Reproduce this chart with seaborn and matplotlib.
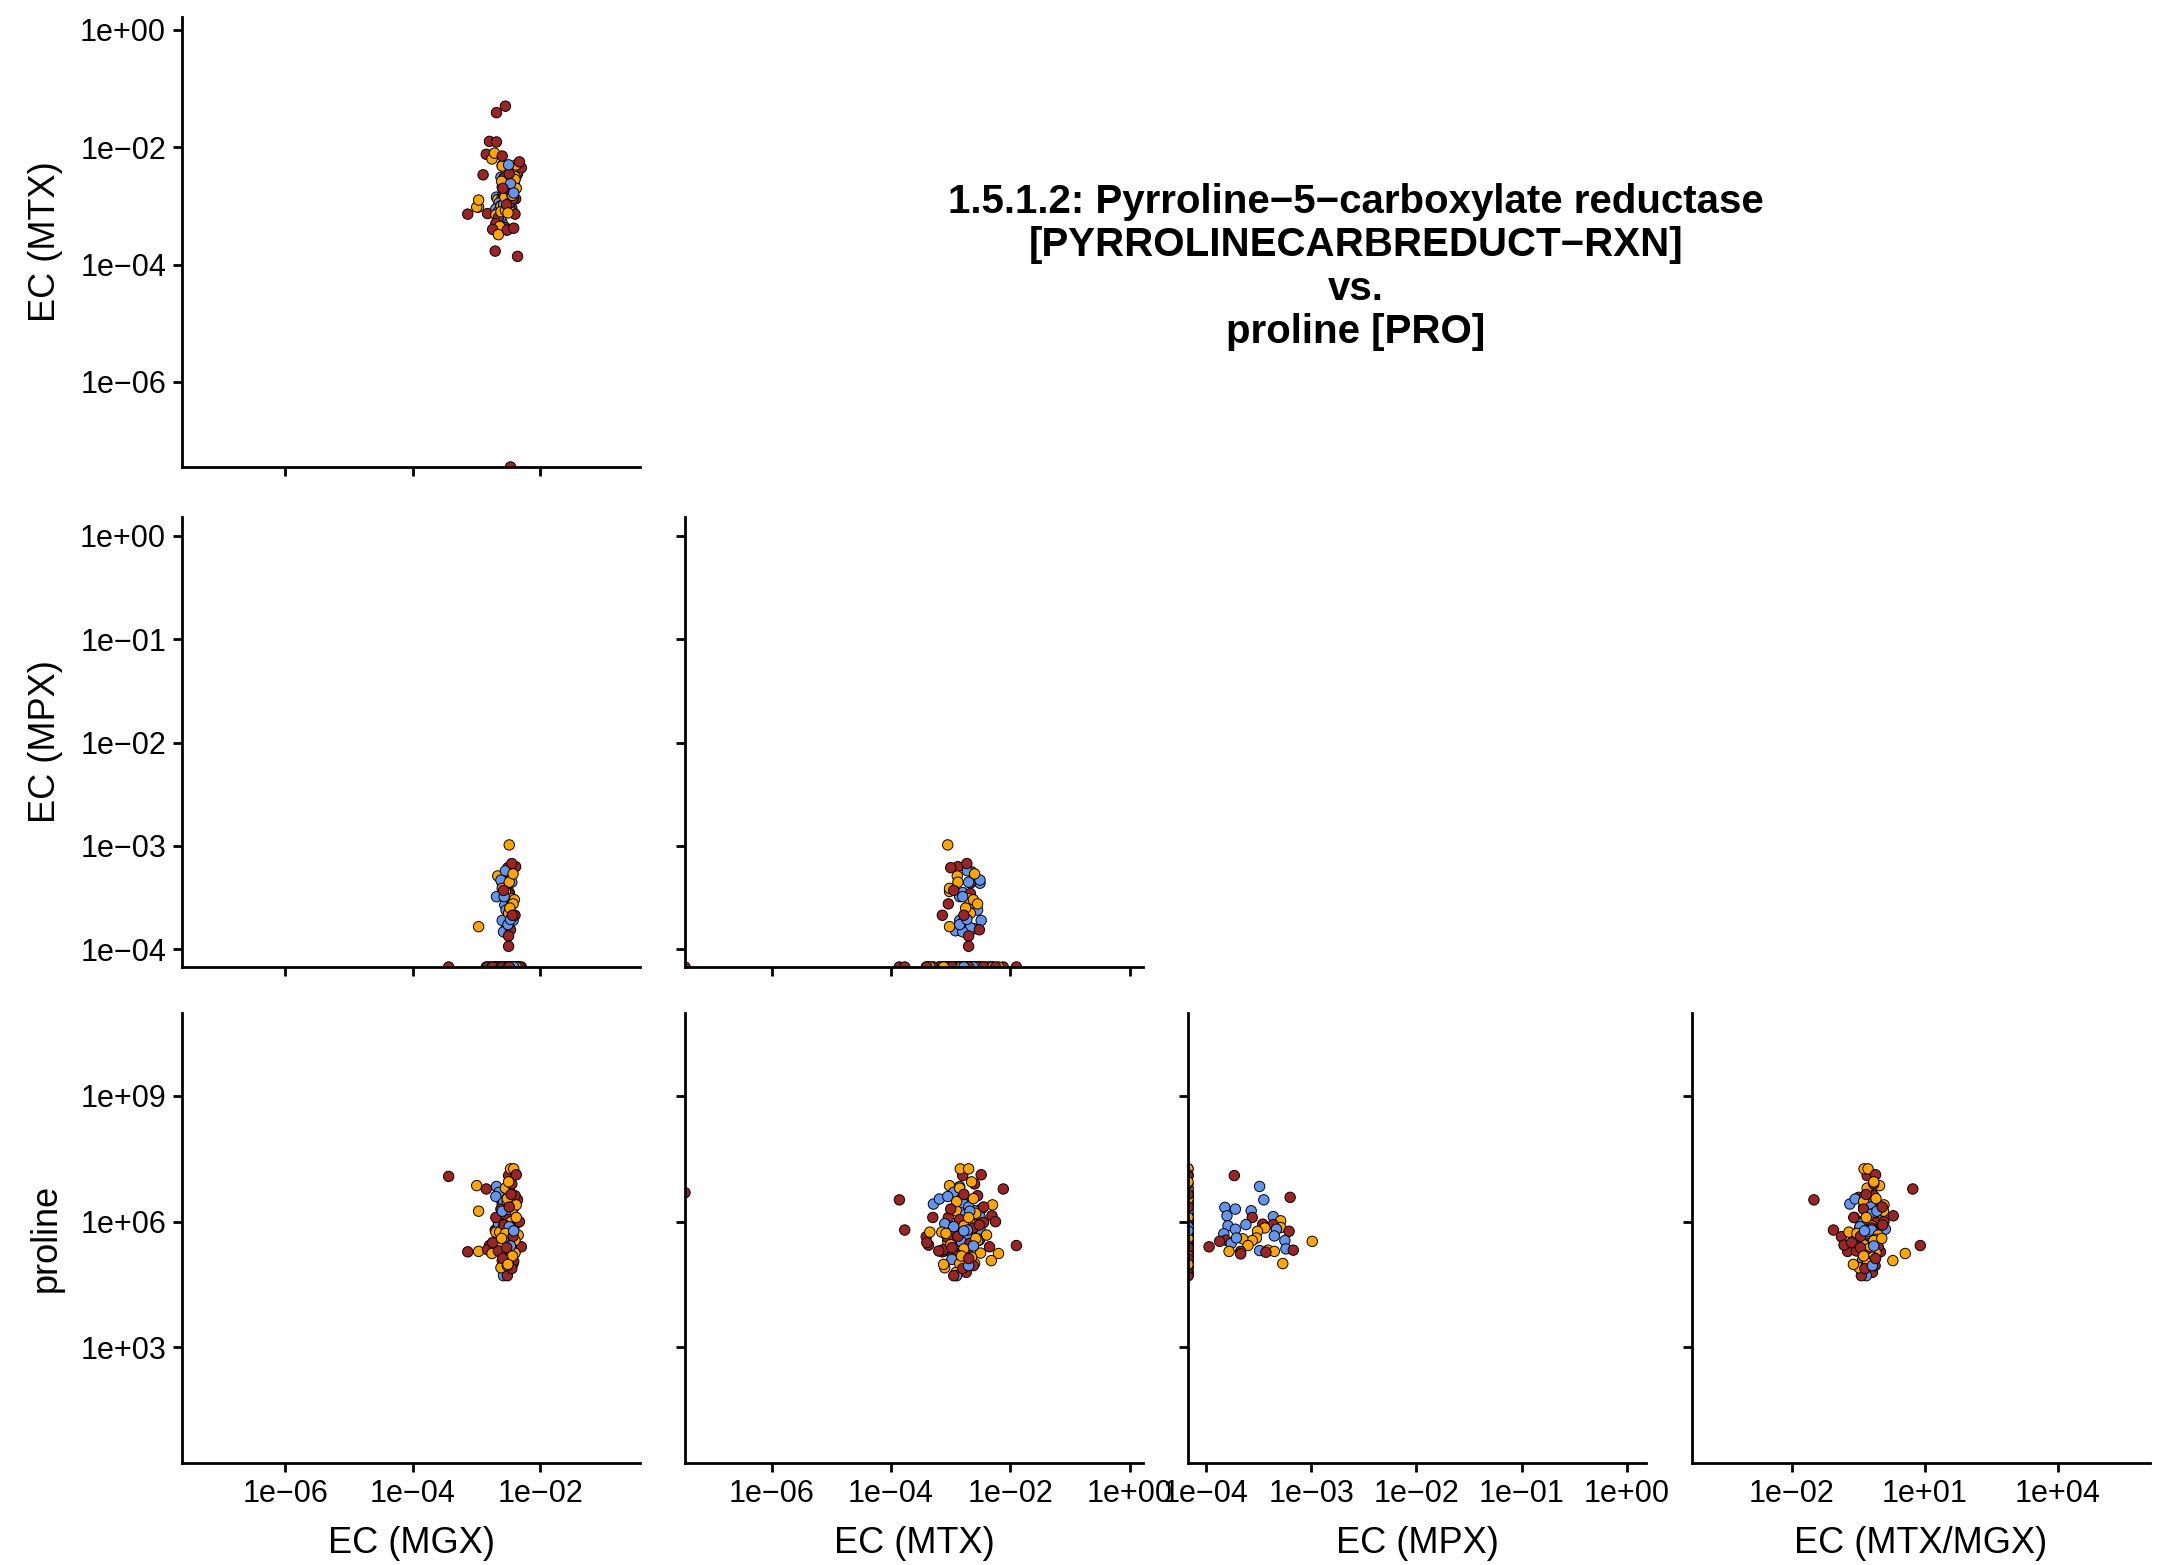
import numpy as np
import pandas as pd
import seaborn as sns
import matplotlib.pyplot as plt
from matplotlib.ticker import FixedLocator, FuncFormatter, NullLocator

# values are log10 abundances; -inf = measured zero, nan = not measured
Z = -np.inf
NA = np.nan

group = (
    # samples with non-zero MPX
    ["CD", "nonIBD", "nonIBD", "CD", "nonIBD", "nonIBD", "nonIBD", "nonIBD", "CD", "nonIBD",
     "UC", "UC", "CD", "CD", "nonIBD", "nonIBD", "nonIBD", "nonIBD", "nonIBD", "CD",
     "UC", "UC", "nonIBD", "UC", "UC", "UC", "CD", "CD", "nonIBD", "UC",
     "CD", "UC", "nonIBD", "nonIBD", "UC", "CD", "CD", "nonIBD", "nonIBD", "UC",
     "UC", "CD", "CD", "UC"]
    # samples with zero MPX
    + ["UC", "UC", "CD", "CD", "UC", "CD", "CD", "UC", "nonIBD", "nonIBD",
       "CD", "CD", "CD", "CD", "CD", "CD", "CD", "CD", "UC", "UC",
       "UC", "CD", "nonIBD", "CD", "nonIBD", "nonIBD", "UC", "CD", "UC", "nonIBD",
       "CD", "UC", "nonIBD", "CD", "UC", "nonIBD", "CD", "UC", "nonIBD", "CD",
       "UC", "CD", "nonIBD", "UC", "CD", "UC", "CD", "UC", "nonIBD", "CD",
       "UC", "CD", "UC", "CD", "UC", "CD", "UC", "nonIBD", "CD", "UC",
       "CD", "UC", "CD", "nonIBD", "UC", "CD", "UC", "CD", "UC", "CD",
       "UC", "CD", "nonIBD", "UC", "CD", "nonIBD", "UC", "CD", "UC", "nonIBD",
       "CD", "UC", "CD", "UC", "nonIBD", "CD"]
    # samples without MPX / metabolite
    + ["CD", "CD", "CD", "CD", "UC", "CD", "CD", "UC", "CD", "nonIBD"]
)

mgx_log = (
    [-2.50, -2.69, -2.49, -2.39, -2.54, -2.43, -2.54, -2.56, -2.45, -2.60,
     -2.58, -2.67, -2.50, -2.49, -2.51, -2.60, -2.54, -2.62, -2.45, -2.51,
     -2.55, -2.45, -2.58, -2.41, -2.43, -2.50, -2.47, -2.50, -2.52, -2.49,
     -2.50, -2.48, -2.51, -2.47, -2.97, -2.40, -2.44, -2.57, -2.55, -2.60,
     -2.49, -2.58, -2.45, -2.43]
    + [-2.47, -2.42, -2.38, -3.44, -3.00, -2.85, -2.36, -2.97, -2.60, -2.62,
       -2.47, -2.60, -2.71, -2.53, -2.55, -2.80, -3.14, -2.83, -2.76, -2.60,
       -2.53, -2.56, -2.58, -2.52, -2.65, -2.70, -2.55, -2.45, -2.50, -2.58,
       -2.40, -2.52, -2.48, -2.62, -2.44, -2.55, -2.50, -2.46, -2.66, -2.36,
       -2.58, -2.42, -2.52, -2.70, -2.48, -2.35, -2.60, -2.45, -2.56, -2.44,
       -2.62, -2.30, -2.50, -2.66, -2.40, -2.54, -2.48, -2.58, -2.42, -2.56,
       -2.50, -2.62, -2.45, -2.52, -2.40, -2.70, -2.38, -2.33, -2.64, -2.75,
       -2.52, -2.46, -2.60, -2.38, -2.57, -2.49, -2.55, -2.43, -2.61, -2.47,
       -2.53, -2.44, -2.59, -2.51, -2.42, -2.49]
    + [-2.55, -2.69, -2.69, -2.90, -2.66, -2.52, -2.42, -2.72, -2.60, -2.50]
)

mtx_log = (
    [-2.80, -2.85, -2.80, -2.88, -2.92, -2.49, -2.61, -2.60, -3.04, -2.51,
     -2.60, -2.89, -2.67, -2.67, -2.67, -2.85, -2.55, -2.51, -2.70, -3.00,
     -3.02, -2.70, -2.80, -2.62, -2.55, -2.67, -2.52, -2.70, -2.65, -3.05,
     -2.70, -2.75, -2.85, -2.73, -3.02, -3.14, -2.78, -2.80, -2.72, -3.02,
     -2.88, -2.95, -2.73, -2.60]
    + [-2.84, -2.70, -2.49, NA, -3.02, -2.12, -3.86, -2.90, -3.29, -3.19,
       Z, -2.31, -3.77, -3.41, -3.37, -1.90, -3.14, -3.13, -2.20, -2.32,
       -2.91, -2.74, -2.90, -2.95, -2.95, -3.05, -2.85, -2.60, -2.65, -2.80,
       -2.55, -2.90, -2.70, -3.00, -2.58, -2.75, -2.85, -2.68, -3.10, -2.45,
       -2.78, -2.62, -2.72, -3.15, -2.95, -2.40, -3.05, -2.55, -2.82, -2.68,
       -3.00, -2.35, -2.78, -3.20, -2.50, -2.88, -2.65, -2.98, -2.72, -2.85,
       -2.62, -3.10, -2.80, -2.70, -2.55, -3.30, -2.30, -2.25, -3.35, -3.40,
       -2.62, -2.78, -2.68, -2.70, -2.52, -2.95, -3.08, -2.88, -2.58, -2.62,
       -2.98, -2.82, -2.70, -3.12, -2.78, -2.45]
    + [-1.30, -1.41, -1.91, -2.47, -3.49, -3.41, -3.38, -2.10, -2.15, -2.30]
)

mpx_log = (
    [-3.73, -3.49, -3.45, -3.20, -3.82, -3.72, -3.80, -3.57, -3.56, -3.36,
     -3.29, -3.29, -3.46, -3.36, -3.79, -3.72, -3.62, -3.33, -3.35, -3.21,
     -3.44, -3.51, -3.83, -3.52, -3.56, -3.65, -3.81, -3.87, -3.25, -2.99,
     -3.97, -3.60, -3.76, -3.71, -3.78, -3.67, -3.67, -3.49, -3.24, -3.41,
     -3.35, -3.43, -3.17, -3.27]
    + [Z, Z, Z, Z, NA, Z, Z, NA, Z, Z,
       Z, Z, Z, Z, Z, Z, NA, Z, Z, Z,
       Z, Z, Z, Z, Z, Z, Z, Z, Z, Z,
       Z, Z, Z, Z, Z, Z, Z, Z, Z, Z,
       Z, Z, Z, Z, Z, Z, Z, Z, Z, Z,
       Z, Z, Z, Z, Z, Z, Z, Z, Z, Z,
       Z, Z, Z, Z, Z, Z, Z, Z, Z, Z,
       Z, Z, Z, Z, Z, Z, Z, Z, Z, Z,
       Z, Z, Z, Z, Z, Z]
    + [NA] * 10
)

proline_log = (
    [7.10, 6.84, 6.52, 6.58, 6.34, 6.30, 6.14, 6.26, 6.10, 6.12,
     6.02, 5.86, 5.94, 5.93, 5.90, 5.82, 5.93, 5.82, 5.66, 5.77,
     5.85, 5.77, 5.71, 5.61, 5.55, 5.59, 5.56, 5.53, 5.55, 5.53,
     5.40, 5.43, 5.48, 5.61, 5.29, 5.29, 5.23, 5.31, 5.35, 5.32,
     5.29, 5.27, 5.32, 5.00]
    + [7.26, 7.26, 7.12, 7.08, 6.86, 6.78, 6.52, 6.25, 6.42, 6.54,
       6.69, 6.14, 5.80, 5.64, 5.44, 5.43, 5.28, 5.33, 5.24, 5.07,
       4.79, 4.79, 4.71, 4.71, 6.70, 6.60, 6.80, 6.90, 6.95, 6.45,
       6.62, 6.48, 6.35, 6.30, 6.20, 6.18, 6.05, 6.00, 5.95, 5.98,
       5.90, 5.85, 5.80, 5.75, 5.70, 5.68, 5.62, 5.58, 5.52, 5.48,
       5.45, 5.40, 5.35, 5.30, 5.25, 5.20, 5.15, 5.10, 5.05, 5.00,
       4.95, 4.90, 4.88, 4.95, 5.55, 6.10, 6.40, 6.00, 5.75, 5.50,
       6.55, 6.65, 6.25, 6.10, 5.92, 5.88, 5.72, 5.65, 5.60, 5.42,
       5.38, 5.18, 5.12, 4.98, 5.78, 6.35]
    + [NA] * 10
)

palette = {"CD": "#9B2424", "UC": "#FFA500", "nonIBD": "#6495ED"}

df = pd.DataFrame({
    "group": group,
    "mgx": np.power(10.0, mgx_log),
    "mtx": np.power(10.0, mtx_log),
    "mpx": np.power(10.0, mpx_log),
    "proline": np.power(10.0, proline_log),
})
df["ratio"] = np.where(df["mtx"] > 0, df["mtx"] / df["mgx"], np.nan)

# axis range (log10) and tick exponents per variable
limits = {"mgx": (-7.62, -0.44), "mtx": (-7.45, 0.22), "mpx": (-4.17, 0.18),
          "ratio": (-4.25, 6.08), "proline": (0.24, 10.98)}
ticks = {"mgx": [-6, -4, -2], "mtx": [-6, -4, -2, 0], "mpx": [-4, -3, -2, -1, 0],
         "ratio": [-2, 1, 4], "proline": [3, 6, 9]}
labels = {"mgx": "EC (MGX)", "mtx": "EC (MTX)", "mpx": "EC (MPX)",
          "ratio": "EC (MTX/MGX)", "proline": "proline"}

sns.set_style("ticks")
plt.rcParams["font.family"] = ["Liberation Sans", "DejaVu Sans"]
plt.rcParams["axes.linewidth"] = 2.0
plt.rcParams["xtick.major.width"] = 2.0
plt.rcParams["ytick.major.width"] = 2.0
plt.rcParams["xtick.major.size"] = 6.5
plt.rcParams["ytick.major.size"] = 6.5
plt.rcParams["axes.edgecolor"] = "black"
plt.rcParams["text.color"] = "black"
plt.rcParams["axes.labelcolor"] = "black"


def exp_label(v, pos):
    e = int(round(np.log10(v)))
    sign = "+" if e >= 0 else "\u2212"
    return f"1e{sign}{abs(e):02d}"


W, H = 2161, 1565
fig = plt.figure(figsize=(W / 100, H / 100), dpi=100)

col_left = [182, 685, 1188, 1692]
row_top = [17, 517, 1013]
pw, ph = 458, 450

panels = [
    (0, 0, "mgx", "mtx"),
    (1, 0, "mgx", "mpx"), (1, 1, "mtx", "mpx"),
    (2, 0, "mgx", "proline"), (2, 1, "mtx", "proline"),
    (2, 2, "mpx", "proline"), (2, 3, "ratio", "proline"),
]

for r, c, xv, yv in panels:
    ax = fig.add_axes([col_left[c] / W, 1 - (row_top[r] + ph) / H, pw / W, ph / H])
    sub = df[["group", xv, yv]].dropna().copy()
    # zero abundances sit on the panel edge, like -Inf in ggplot
    xlo, ylo = 10.0 ** limits[xv][0], 10.0 ** limits[yv][0]
    sub[xv] = np.where(sub[xv] > 0, sub[xv], xlo)
    sub[yv] = np.where(sub[yv] > 0, sub[yv], ylo)
    sns.scatterplot(data=sub, x=xv, y=yv, hue="group", palette=palette, ax=ax,
                    s=56, edgecolor="black", linewidth=0.7, legend=False)
    ax.set_xscale("log")
    ax.set_yscale("log")
    ax.set_xlim(10.0 ** limits[xv][0], 10.0 ** limits[xv][1])
    ax.set_ylim(10.0 ** limits[yv][0], 10.0 ** limits[yv][1])
    ax.xaxis.set_major_locator(FixedLocator(10.0 ** np.array(ticks[xv])))
    ax.yaxis.set_major_locator(FixedLocator(10.0 ** np.array(ticks[yv])))
    ax.xaxis.set_minor_locator(NullLocator())
    ax.yaxis.set_minor_locator(NullLocator())
    ax.xaxis.set_major_formatter(FuncFormatter(exp_label))
    ax.yaxis.set_major_formatter(FuncFormatter(exp_label))
    ax.tick_params(labelsize=22, colors="black", pad=5)
    sns.despine(ax=ax)
    if r == 2:
        ax.set_xlabel(labels[xv], fontsize=26, labelpad=12)
    else:
        ax.set_xlabel("")
        ax.tick_params(axis="x", labelbottom=False)
    if c == 0:
        ax.set_ylabel(labels[yv], fontsize=26, labelpad=12)
    else:
        ax.set_ylabel("")
        ax.tick_params(axis="y", labelleft=False)

fig.text(1356 / W, 1 - 267 / H,
         "1.5.1.2: Pyrroline\u22125\u2212carboxylate reductase\n"
         "[PYRROLINECARBREDUCT\u2212RXN]\nvs.\nproline [PRO]",
         ha="center", va="center", fontsize=29, fontweight="bold",
         family=["Liberation Sans Narrow", "Liberation Sans", "DejaVu Sans"],
         linespacing=1.18)

fig.savefig("out.png", dpi=100)
